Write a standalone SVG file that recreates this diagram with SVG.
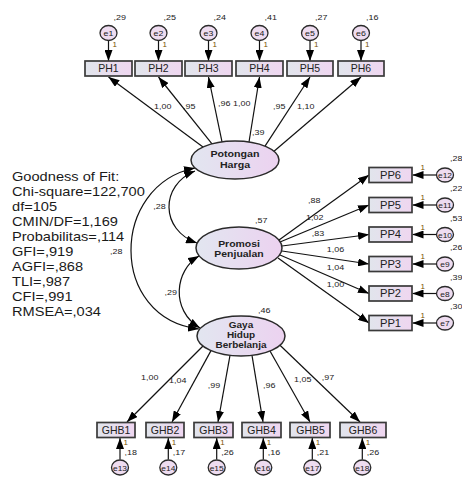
<svg xmlns="http://www.w3.org/2000/svg" width="462" height="478" viewBox="0 0 462 478">
<defs>
<linearGradient id="gb" x1="0" y1="0" x2="1" y2="0"><stop offset="0" stop-color="#e1e5ec"/><stop offset="1" stop-color="#efd6f0"/></linearGradient>
<linearGradient id="ge" x1="0" y1="0" x2="1" y2="0"><stop offset="0" stop-color="#e2e6f0"/><stop offset="1" stop-color="#ecd2f0"/></linearGradient>
<marker id="ah" markerUnits="userSpaceOnUse" viewBox="0 0 11 8" markerWidth="11" markerHeight="8" refX="11" refY="4" orient="auto-start-reverse"><path d="M0,0 L11,4 L0,8 z" fill="#000"/></marker>
</defs>
<style>
.box{fill:url(#gb);stroke:#3a3a3a;stroke-width:1.7}
.lat{fill:url(#ge);stroke:#2a2a2a;stroke-width:1.5}
.err{fill:#eedcf0;stroke:#2a2a2a;stroke-width:1.3}
.c{fill:none;stroke:#111;stroke-width:1.2;marker-end:url(#ah)}
.cov{fill:none;stroke:#111;stroke-width:1.2;marker-start:url(#ah);marker-end:url(#ah)}
text{font-family:"Liberation Sans",Arial,sans-serif;fill:#1a1a1a}
.gof{font-size:12.5px}
.bl{font-size:10px;text-anchor:middle;fill:#222}
.ll{font-size:9.5px;font-weight:bold;text-anchor:middle;fill:#222}
.el{font-size:8px;text-anchor:middle;fill:#222}
.n{font-size:8px;fill:#222}
.one{font-size:8px;fill:#7a5000}
</style>

<g id="connectors">
<path class="c" d="M108.5,40.5 L108.5,61"/>
<path class="c" d="M158.5,40.5 L158.5,61"/>
<path class="c" d="M208.5,40.5 L208.5,61"/>
<path class="c" d="M259.5,40.5 L259.5,61"/>
<path class="c" d="M310,40.5 L310,61"/>
<path class="c" d="M361,40.5 L361,61"/>
<path class="c" d="M203,147 L108.5,77"/>
<path class="c" d="M212,143.8 L158.5,77"/>
<path class="c" d="M222,141.9 L208.5,77"/>
<path class="c" d="M249,142 L259.5,77"/>
<path class="c" d="M265,146.1 L310,77"/>
<path class="c" d="M274,151.2 L361,77"/>
<path class="c" d="M279,240 L369,175"/>
<path class="c" d="M280,242 L369,205"/>
<path class="c" d="M282,246 L369,234.5"/>
<path class="c" d="M282,251 L369,264"/>
<path class="c" d="M280,255 L369,293.5"/>
<path class="c" d="M278,258 L369,323"/>
<path class="c" d="M436.5,175 L412.5,175"/>
<path class="c" d="M436.5,205 L412.5,205"/>
<path class="c" d="M436.5,234.5 L412.5,234.5"/>
<path class="c" d="M436.5,264 L412.5,264"/>
<path class="c" d="M436.5,293.5 L412.5,293.5"/>
<path class="c" d="M436.5,323 L412.5,323"/>
<path class="c" d="M203,346 L127,422"/>
<path class="c" d="M211,350.6 L172,422"/>
<path class="c" d="M230,355.4 L218,422"/>
<path class="c" d="M252,355.4 L263,422"/>
<path class="c" d="M270,351 L310,422"/>
<path class="c" d="M280,345.3 L360,422"/>
<path class="c" d="M120,459.5 L120,438"/>
<path class="c" d="M168.3,459.5 L168.3,438"/>
<path class="c" d="M216.7,459.5 L216.7,438"/>
<path class="c" d="M263.3,459.5 L263.3,438"/>
<path class="c" d="M312.3,459.5 L312.3,438"/>
<path class="c" d="M362.3,459.5 L362.3,438"/>
<path class="cov" d="M195,168 C110,185 108,318 199,329"/>
<path class="cov" d="M195,171 C160,185 160,230 197,243"/>
<path class="cov" d="M199,256 C175,270 170,310 200,328"/>
</g>

<g id="labels">
<text class="n" transform="matrix(1.12,0,0,1,154,109)">1,00</text>
<text class="n" transform="matrix(1.12,0,0,1,183,109)">,95</text>
<text class="n" transform="matrix(1.12,0,0,1,218,106)">,96</text>
<text class="n" transform="matrix(1.12,0,0,1,233,106)">1,00</text>
<text class="n" transform="matrix(1.12,0,0,1,273,109)">,95</text>
<text class="n" transform="matrix(1.12,0,0,1,297,109)">1,10</text>
<text class="n" transform="matrix(1.12,0,0,1,252,135)">,39</text>
<text class="n" transform="matrix(1.12,0,0,1,255,223)">,57</text>
<text class="n" transform="matrix(1.12,0,0,1,258,312.5)">,46</text>
<text class="n" transform="matrix(1.12,0,0,1,308,203.3)">,88</text>
<text class="n" transform="matrix(1.12,0,0,1,306,219.5)">1,02</text>
<text class="n" transform="matrix(1.12,0,0,1,311.7,235.5)">,83</text>
<text class="n" transform="matrix(1.12,0,0,1,326.7,252)">1,06</text>
<text class="n" transform="matrix(1.12,0,0,1,326.7,269.5)">1,04</text>
<text class="n" transform="matrix(1.12,0,0,1,326.7,286.5)">1,00</text>
<text class="n" transform="matrix(1.12,0,0,1,141,379.5)">1,00</text>
<text class="n" transform="matrix(1.12,0,0,1,169,382.5)">1,04</text>
<text class="n" transform="matrix(1.12,0,0,1,207.7,387.5)">,99</text>
<text class="n" transform="matrix(1.12,0,0,1,263,387.5)">,96</text>
<text class="n" transform="matrix(1.12,0,0,1,294,382)">1,05</text>
<text class="n" transform="matrix(1.12,0,0,1,321.7,380)">,97</text>
<text class="n" transform="matrix(1.12,0,0,1,153.3,209)">,28</text>
<text class="n" transform="matrix(1.12,0,0,1,110,253.5)">,28</text>
<text class="n" transform="matrix(1.12,0,0,1,164.5,295)">,29</text>
</g>

<g id="gof">
<text class="gof" transform="matrix(1.17,0,0,1,12,181)">Goodness of Fit:</text>
<text class="gof" transform="matrix(1.17,0,0,1,12,196)">Chi-square=122,700</text>
<text class="gof" transform="matrix(1.17,0,0,1,12,211)">df=105</text>
<text class="gof" transform="matrix(1.17,0,0,1,12,226)">CMIN/DF=1,169</text>
<text class="gof" transform="matrix(1.17,0,0,1,12,241)">Probabilitas=,114</text>
<text class="gof" transform="matrix(1.17,0,0,1,12,256)">GFI=,919</text>
<text class="gof" transform="matrix(1.17,0,0,1,12,271)">AGFI=,868</text>
<text class="gof" transform="matrix(1.17,0,0,1,12,286)">TLI=,987</text>
<text class="gof" transform="matrix(1.17,0,0,1,12,301)">CFI=,991</text>
<text class="gof" transform="matrix(1.17,0,0,1,12,316)">RMSEA=,034</text>
</g>

<g id="potongan-harga">
<ellipse class="lat" cx="235" cy="160" rx="44" ry="19"/>
<text class="ll" transform="matrix(1.12,0,0,1,235,157)">Potongan</text>
<text class="ll" transform="matrix(1.12,0,0,1,235,168)">Harga</text>
</g>
<g id="promosi-penjualan">
<ellipse class="lat" cx="239" cy="248" rx="43" ry="21"/>
<text class="ll" transform="matrix(1.1,0,0,1,239,246.5)">Promosi</text>
<text class="ll" transform="matrix(1.1,0,0,1,239,257)">Penjualan</text>
</g>
<g id="gaya-hidup-berbelanja">
<ellipse class="lat" cx="241" cy="336" rx="44" ry="20"/>
<text class="ll" transform="matrix(1.05,0,0,1,241,327.5)">Gaya</text>
<text class="ll" transform="matrix(1.05,0,0,1,241,337.5)">Hidup</text>
<text class="ll" transform="matrix(1.05,0,0,1,241,347.5)">Berbelanja</text>
</g>

<g id="PH1"><rect class="box" x="85" y="61" width="47" height="15"/><text class="bl" transform="matrix(1.05,0,0,1,108.5,72.2)">PH1</text></g>
<g id="PH2"><rect class="box" x="135" y="61" width="47" height="15"/><text class="bl" transform="matrix(1.05,0,0,1,158.5,72.2)">PH2</text></g>
<g id="PH3"><rect class="box" x="185" y="61" width="47" height="15"/><text class="bl" transform="matrix(1.05,0,0,1,208.5,72.2)">PH3</text></g>
<g id="PH4"><rect class="box" x="236" y="61" width="47" height="15"/><text class="bl" transform="matrix(1.05,0,0,1,259.5,72.2)">PH4</text></g>
<g id="PH5"><rect class="box" x="287" y="61" width="46" height="15"/><text class="bl" transform="matrix(1.05,0,0,1,310,72.2)">PH5</text></g>
<g id="PH6"><rect class="box" x="338" y="61" width="46" height="15"/><text class="bl" transform="matrix(1.05,0,0,1,361,72.2)">PH6</text></g>

<g id="e1"><ellipse class="err" cx="108.5" cy="33" rx="8.5" ry="7.5"/><text class="el" transform="matrix(1.1,0,0,1,108.5,36)">e1</text><text class="one" x="112.5" y="47">1</text><text class="n" transform="matrix(1.12,0,0,1,113.5,19.5)">,29</text></g>
<g id="e2"><ellipse class="err" cx="158.5" cy="33" rx="8.5" ry="7.5"/><text class="el" transform="matrix(1.1,0,0,1,158.5,36)">e2</text><text class="one" x="162.5" y="47">1</text><text class="n" transform="matrix(1.12,0,0,1,163.5,19.5)">,25</text></g>
<g id="e3"><ellipse class="err" cx="208.5" cy="33" rx="8.5" ry="7.5"/><text class="el" transform="matrix(1.1,0,0,1,208.5,36)">e3</text><text class="one" x="212.5" y="47">1</text><text class="n" transform="matrix(1.12,0,0,1,213.5,19.5)">,24</text></g>
<g id="e4"><ellipse class="err" cx="259.5" cy="33" rx="8.5" ry="7.5"/><text class="el" transform="matrix(1.1,0,0,1,259.5,36)">e4</text><text class="one" x="263.5" y="47">1</text><text class="n" transform="matrix(1.12,0,0,1,264.5,19.5)">,41</text></g>
<g id="e5"><ellipse class="err" cx="310" cy="33" rx="8.5" ry="7.5"/><text class="el" transform="matrix(1.1,0,0,1,310,36)">e5</text><text class="one" x="314" y="47">1</text><text class="n" transform="matrix(1.12,0,0,1,315,19.5)">,27</text></g>
<g id="e6"><ellipse class="err" cx="361" cy="33" rx="8.5" ry="7.5"/><text class="el" transform="matrix(1.1,0,0,1,361,36)">e6</text><text class="one" x="365" y="47">1</text><text class="n" transform="matrix(1.12,0,0,1,366,19.5)">,16</text></g>

<g id="PP6"><rect class="box" x="369" y="167.5" width="43" height="15"/><text class="bl" transform="matrix(1.12,0,0,1,390.5,178.7)">PP6</text></g>
<g id="PP5"><rect class="box" x="369" y="197.5" width="43" height="15"/><text class="bl" transform="matrix(1.12,0,0,1,390.5,208.7)">PP5</text></g>
<g id="PP4"><rect class="box" x="369" y="227" width="43" height="15"/><text class="bl" transform="matrix(1.12,0,0,1,390.5,238.2)">PP4</text></g>
<g id="PP3"><rect class="box" x="369" y="256.5" width="43" height="15"/><text class="bl" transform="matrix(1.12,0,0,1,390.5,267.7)">PP3</text></g>
<g id="PP2"><rect class="box" x="369" y="286" width="43" height="15"/><text class="bl" transform="matrix(1.12,0,0,1,390.5,297.2)">PP2</text></g>
<g id="PP1"><rect class="box" x="369" y="315.5" width="43" height="15"/><text class="bl" transform="matrix(1.12,0,0,1,390.5,326.7)">PP1</text></g>

<g id="e12"><ellipse class="err" cx="445" cy="175" rx="8.5" ry="7"/><text class="el" transform="matrix(1.05,0,0,1,445,178)">e12</text><text class="one" x="420.5" y="170">1</text><text class="n" transform="matrix(1.12,0,0,1,450,161)">,28</text></g>
<g id="e11"><ellipse class="err" cx="445" cy="205" rx="8.5" ry="7"/><text class="el" transform="matrix(1.05,0,0,1,445,208)">e11</text><text class="one" x="420.5" y="200">1</text><text class="n" transform="matrix(1.12,0,0,1,450,191)">,22</text></g>
<g id="e10"><ellipse class="err" cx="445" cy="234.5" rx="8.5" ry="7"/><text class="el" transform="matrix(1.05,0,0,1,445,237.5)">e10</text><text class="one" x="420.5" y="229.5">1</text><text class="n" transform="matrix(1.12,0,0,1,450,220.5)">,53</text></g>
<g id="e9"><ellipse class="err" cx="445" cy="264" rx="8.5" ry="7"/><text class="el" transform="matrix(1.05,0,0,1,445,267)">e9</text><text class="one" x="420.5" y="259">1</text><text class="n" transform="matrix(1.12,0,0,1,450,250)">,26</text></g>
<g id="e8"><ellipse class="err" cx="445" cy="293.5" rx="8.5" ry="7"/><text class="el" transform="matrix(1.05,0,0,1,445,296.5)">e8</text><text class="one" x="420.5" y="288.5">1</text><text class="n" transform="matrix(1.12,0,0,1,450,279.5)">,39</text></g>
<g id="e7"><ellipse class="err" cx="445" cy="323" rx="8.5" ry="7"/><text class="el" transform="matrix(1.05,0,0,1,445,326)">e7</text><text class="one" x="420.5" y="318">1</text><text class="n" transform="matrix(1.12,0,0,1,450,309)">,30</text></g>

<g id="GHB1"><rect class="box" x="97" y="422.5" width="38" height="15"/><text class="bl" transform="matrix(1.05,0,0,1,116,433.7)">GHB1</text></g>
<g id="GHB2"><rect class="box" x="146" y="422.5" width="38" height="15"/><text class="bl" transform="matrix(1.05,0,0,1,165,433.7)">GHB2</text></g>
<g id="GHB3"><rect class="box" x="194" y="422.5" width="39" height="15"/><text class="bl" transform="matrix(1.05,0,0,1,213.5,433.7)">GHB3</text></g>
<g id="GHB4"><rect class="box" x="242" y="422.5" width="39" height="15"/><text class="bl" transform="matrix(1.05,0,0,1,261.5,433.7)">GHB4</text></g>
<g id="GHB5"><rect class="box" x="290" y="422.5" width="40" height="15"/><text class="bl" transform="matrix(1.05,0,0,1,310.5,433.7)">GHB5</text></g>
<g id="GHB6"><rect class="box" x="340" y="422.5" width="46" height="15"/><text class="bl" transform="matrix(1.05,0,0,1,363,433.7)">GHB6</text></g>

<g id="e13"><ellipse class="err" cx="120" cy="467.5" rx="8.5" ry="7.5"/><text class="el" transform="matrix(1.05,0,0,1,120,470.5)">e13</text><text class="one" x="123.5" y="445">1</text><text class="n" transform="matrix(1.12,0,0,1,124.5,454.5)">,18</text></g>
<g id="e14"><ellipse class="err" cx="168.3" cy="467.5" rx="8.5" ry="7.5"/><text class="el" transform="matrix(1.05,0,0,1,168.3,470.5)">e14</text><text class="one" x="171.8" y="445">1</text><text class="n" transform="matrix(1.12,0,0,1,172.8,454.5)">,17</text></g>
<g id="e15"><ellipse class="err" cx="216.7" cy="467.5" rx="8.5" ry="7.5"/><text class="el" transform="matrix(1.05,0,0,1,216.7,470.5)">e15</text><text class="one" x="220.2" y="445">1</text><text class="n" transform="matrix(1.12,0,0,1,221.2,454.5)">,26</text></g>
<g id="e16"><ellipse class="err" cx="263.3" cy="467.5" rx="8.5" ry="7.5"/><text class="el" transform="matrix(1.05,0,0,1,263.3,470.5)">e16</text><text class="one" x="266.8" y="445">1</text><text class="n" transform="matrix(1.12,0,0,1,267.8,454.5)">,16</text></g>
<g id="e17"><ellipse class="err" cx="312.3" cy="467.5" rx="8.5" ry="7.5"/><text class="el" transform="matrix(1.05,0,0,1,312.3,470.5)">e17</text><text class="one" x="315.8" y="445">1</text><text class="n" transform="matrix(1.12,0,0,1,316.8,454.5)">,21</text></g>
<g id="e18"><ellipse class="err" cx="362.3" cy="467.5" rx="8.5" ry="7.5"/><text class="el" transform="matrix(1.05,0,0,1,362.3,470.5)">e18</text><text class="one" x="365.8" y="445">1</text><text class="n" transform="matrix(1.12,0,0,1,366.8,454.5)">,26</text></g>
</svg>
